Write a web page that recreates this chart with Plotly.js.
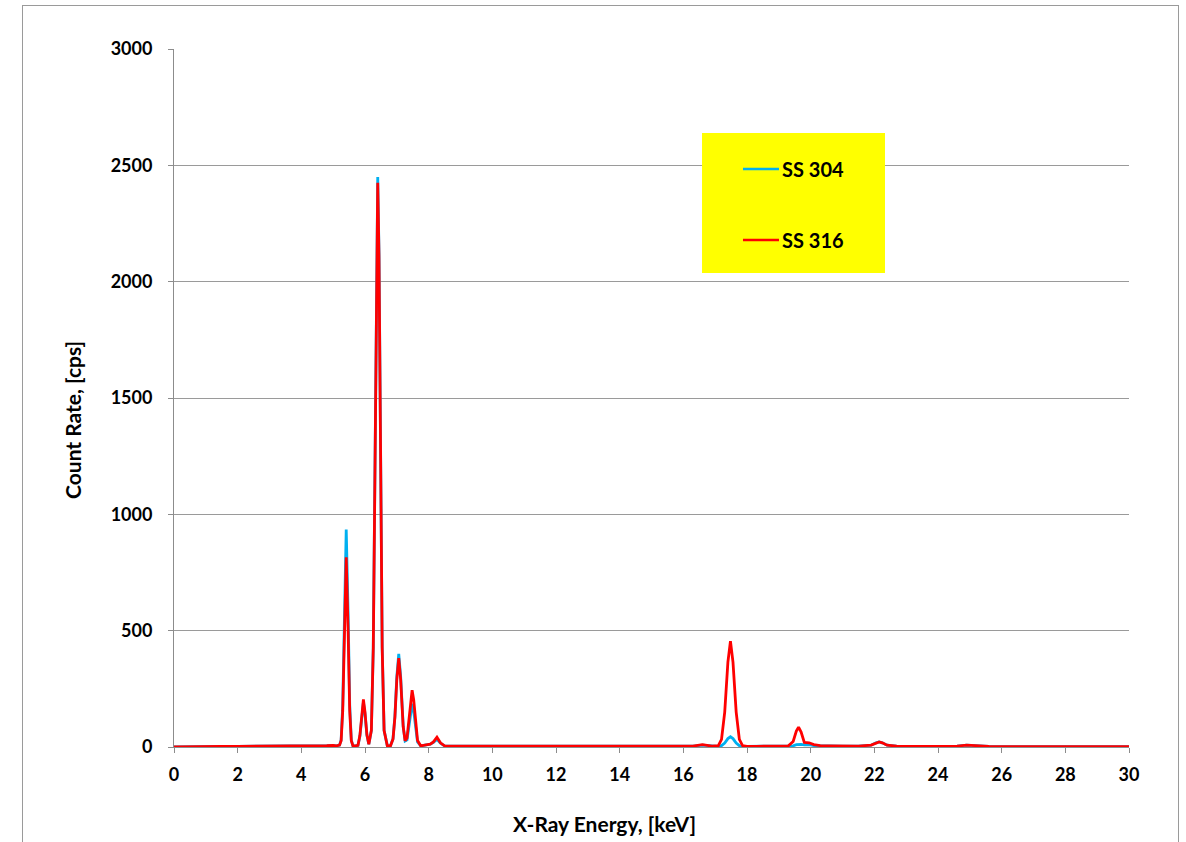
<!DOCTYPE html>
<html>
<head>
<meta charset="utf-8">
<script src="https://cdn.plot.ly/plotly-3.0.1.min.js"></script>
<style>
  html, body { margin: 0; padding: 0; background: #fff; }
  #chart { width: 1186px; height: 842px; position: absolute; left: 0; top: 0; }
  #frame { position: absolute; left: 22px; top: 5px; width: 1155px; height: 900px;
           border: 1px solid #9a9a9a; pointer-events: none; }
</style>
</head>
<body>
<div id="chart"></div>
<div id="frame"></div>
<script>
// X-ray energy (keV)
const energy = [
  0, 0.5, 0.8, 1.0, 1.5, 2.0, 2.5, 3.0, 3.5, 4.0, 4.5, 4.8, 5.0, 5.1, 5.2,
  5.25, 5.30, 5.35, 5.41, 5.47, 5.52, 5.57, 5.62, 5.70, 5.78, 5.84, 5.90, 5.95, 6.00, 6.06, 6.12,
  6.20, 6.26, 6.31, 6.36, 6.40, 6.44, 6.49, 6.54, 6.60, 6.70, 6.80,
  6.88, 6.94, 7.00, 7.06, 7.12, 7.20, 7.26, 7.32, 7.38, 7.43, 7.48, 7.53, 7.58, 7.65, 7.75,
  7.90, 8.05, 8.15, 8.26, 8.37, 8.50, 8.70, 9.0, 9.5, 9.8, 10, 11, 12, 13, 14, 15, 16,
  16.3, 16.6, 16.9, 17.1, 17.2, 17.3, 17.4, 17.48, 17.56, 17.66, 17.76, 17.86, 18.0,
  18.3, 18.6, 19.0, 19.3, 19.45, 19.55, 19.62, 19.7, 19.8, 19.95, 20.1, 20.3, 20.6,
  21, 21.5, 21.9, 22.05, 22.15, 22.25, 22.4, 22.7, 23, 23.5, 24, 24.6, 24.9, 25.2, 25.6,
  26, 27, 28, 29, 30
];

// SS 304 count rate (cps)
const ss304 = [
  0, 1, 4, 4, 3, 3, 3, 5, 3, 4, 4, 6, 7, 5, 8,
  30, 180, 570, 935, 570, 180, 30, 6, 5, 7, 46, 142, 192, 142, 50, 12,
  72, 430, 1195, 2125, 2450, 2125, 1195, 430, 72, 6, 5,
  36, 133, 304, 400, 304, 90, 26, 31, 87, 153, 186, 153, 87, 22, 5,
  10, 12, 20, 33, 16, 5, 4, 4, 3, 5, 3, 2, 2, 2, 2, 2, 2,
  4, 8, 4, 3, 6, 17, 36, 44, 36, 17, 6, 3, 3,
  3, 3, 4, 5, 5, 10, 12, 11, 9, 10, 6, 5, 5,
  4, 4, 8, 18, 22, 18, 8, 4, 3, 3, 3, 4, 8, 5, 3,
  2, 2, 2, 2, 2
];

// SS 316 count rate (cps)
const ss316 = [
  0, 1, 4, 4, 3, 3, 3, 5, 3, 4, 4, 6, 7, 5, 8,
  27, 155, 497, 815, 497, 155, 27, 6, 5, 7, 50, 150, 205, 150, 52, 12,
  71, 425, 1182, 2103, 2425, 2103, 1182, 425, 71, 6, 5,
  34, 128, 291, 382, 291, 86, 27, 39, 115, 202, 244, 202, 115, 28, 5,
  10, 12, 22, 42, 18, 5, 4, 4, 3, 5, 3, 2, 2, 2, 2, 2, 2,
  4, 10, 4, 6, 33, 150, 365, 455, 365, 150, 33, 6, 3,
  3, 3, 4, 5, 24, 68, 85, 64, 20, 18, 10, 6, 5,
  4, 4, 8, 18, 22, 18, 8, 4, 3, 3, 3, 4, 8, 5, 3,
  2, 2, 2, 2, 2
];

const seriesNames = ["SS 304", "SS 316"];
const seriesColors = ["#00B0F0", "#FF0000"];
const xTicks = [0, 2, 4, 6, 8, 10, 12, 14, 16, 18, 20, 22, 24, 26, 28, 30];
const yTicks = [0, 500, 1000, 1500, 2000, 2500, 3000];
const xTitle = "X-Ray Energy, [keV]";
const yTitle = "Count Rate, [cps]";

const FONT = "Lato, 'Open Sans', 'Liberation Sans', sans-serif";

const traces = [
  { x: energy, y: ss304, type: "scatter", mode: "lines", name: seriesNames[0],
    line: { color: seriesColors[0], width: 2.8 }, showlegend: false },
  { x: energy, y: ss316, type: "scatter", mode: "lines", name: seriesNames[1],
    line: { color: seriesColors[1], width: 2.8 }, showlegend: false }
];

// legend box geometry (paper coords)
const lg = { x0: 0.5529, x1: 0.7445, y0: 0.6791, y1: 0.8797,
             lx0: 0.5958, lx1: 0.6335, tx: 0.6346, ys: [0.8281, 0.7264] };

const shapes = [
  { type: "rect", xref: "paper", yref: "paper", x0: lg.x0, x1: lg.x1, y0: lg.y0, y1: lg.y1,
    fillcolor: "#FFFF00", line: { width: 0 }, layer: "above" }
];
const annotations = [];
seriesNames.forEach((n, i) => {
  shapes.push({ type: "line", xref: "paper", yref: "paper", x0: lg.lx0, x1: lg.lx1,
    y0: lg.ys[i], y1: lg.ys[i], line: { color: seriesColors[i], width: 2.6 }, layer: "above" });
  annotations.push({ xref: "paper", yref: "paper", x: lg.tx, y: lg.ys[i], xanchor: "left",
    yanchor: "middle", showarrow: false, text: "<b>" + n + "</b>",
    font: { family: FONT, size: 20, color: "#000" } });
});
// axis titles (placed as in the reference, off-centre)
annotations.push({ xref: "paper", yref: "paper", x: 0.4513, y: -0.1103, xanchor: "center",
  yanchor: "middle", showarrow: false, text: "<b>" + xTitle + "</b>",
  font: { family: FONT, size: 21, color: "#000" } });
annotations.push({ xref: "paper", yref: "paper", x: -0.1058, y: 0.4685, xanchor: "center",
  yanchor: "middle", showarrow: false, textangle: -90, text: "<b>" + yTitle + "</b>",
  font: { family: FONT, size: 21, color: "#000" } });

const layout = {
  width: 1186, height: 842,
  margin: { l: 174, r: 57, t: 49, b: 95 },
  paper_bgcolor: "#fff", plot_bgcolor: "#fff",
  font: { family: FONT, color: "#000" },
  showlegend: false,
  xaxis: {
    range: [0, 30], tickvals: xTicks, ticktext: xTicks.map(v => "<b>" + v + "</b>"),
    showgrid: false, zeroline: false, showline: true, linecolor: "#8c8c8c", linewidth: 1,
    ticks: "outside", ticklen: 5, tickcolor: "#8c8c8c", ticklabelstandoff: 6,
    tickfont: { family: FONT, size: 18, color: "#000" }
  },
  yaxis: {
    range: [0, 3000], tickvals: yTicks, ticktext: yTicks.map(v => "<b>" + v + "</b>"),
    showgrid: true, gridcolor: "#9a9a9a", gridwidth: 1, zeroline: false,
    showline: true, linecolor: "#8c8c8c", linewidth: 1,
    ticks: "outside", ticklen: 5, tickcolor: "#8c8c8c", ticklabelstandoff: 12,
    tickfont: { family: FONT, size: 18, color: "#000" }
  },
  shapes: shapes,
  annotations: annotations
};

Plotly.newPlot("chart", traces, layout, { displayModeBar: false, staticPlot: true });
</script>
</body>
</html>
